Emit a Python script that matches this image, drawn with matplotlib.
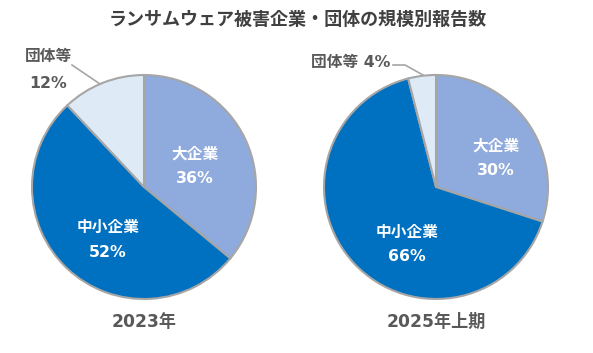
import matplotlib
matplotlib.use("Agg")
import matplotlib.pyplot as plt
import numpy as np

plt.rcParams['font.family'] = ['DejaVu Sans', 'Noto Sans CJK JP']

title = "ランサムウェア被害企業・団体の規模別報告数"
categories = ["大企業", "中小企業", "団体等"]
periods = ["2023年", "2025年上期"]
values_2023 = [36, 52, 12]
values_2025h1 = [30, 66, 4]
colors = ["#8FAADC", "#0070C0", "#DEEBF7"]

W, H = 593, 353
fig = plt.figure(figsize=(W / 100, H / 100), dpi=100)

def px_axes(cx, cy, r):
    return fig.add_axes([(cx - r) / W, (H - cy - r) / H, 2 * r / W, 2 * r / H])

fig.text(298 / W, 1 - 19 / H, title, ha='center', va='center',
         fontsize=13, fontweight='bold', color='#404040',
         family=['Noto Sans CJK JP', 'DejaVu Sans'])

R = 112
centers = [(144, 187), (436, 187)]
all_values = [values_2023, values_2025h1]
# inside label positions (data coords, unit radius)
inside_pos = [
    [(0.455, 0.183), (-0.32, -0.473), None],
    [(0.536, 0.254), (-0.259, -0.513), None],
]
gray = '#595959'
fs = 11.3

for k, (vals, (cx, cy)) in enumerate(zip(all_values, centers)):
    ax = px_axes(cx, cy, R)
    ax.pie(vals, colors=colors, startangle=90, counterclock=False, radius=1.0,
           wedgeprops=dict(edgecolor='#A6A6A6', linewidth=1.5))
    ax.set_xlim(-1, 1)
    ax.set_ylim(-1, 1)
    ax.set_aspect('equal')
    ax.axis('off')
    for i in range(2):
        x, y = inside_pos[k][i]
        ax.text(x, y, f"{categories[i]}\n{vals[i]}%", ha='center', va='center',
                color='white', fontsize=fs, fontweight='bold', linespacing=1.8)
    # period label
    fig.text(cx / W, 1 - 322 / H, periods[k], ha='center', va='center',
             fontsize=12.3, fontweight='bold', color=gray)

# outside labels for 団体等
fig.text(48 / W, 1 - 57 / H, categories[2], ha='center', va='center',
         fontsize=fs, fontweight='bold', color=gray)
fig.text(48 / W, 1 - 84 / H, f"{values_2023[2]}%", ha='center', va='center',
         fontsize=fs, fontweight='bold', color=gray)
fig.add_artist(plt.Line2D([72 / W, 100 / W], [1 - 65 / H, 1 - 84 / H],
                          color='#A6A6A6', lw=1.2))

fig.text(351 / W, 1 - 62 / H, f"{categories[2]} {values_2025h1[2]}%", ha='center', va='center',
         fontsize=fs, fontweight='bold', color=gray)
fig.add_artist(plt.Line2D([393 / W, 405 / W, 423 / W], [1 - 65 / H, 1 - 65 / H, 1 - 75 / H],
                          color='#A6A6A6', lw=1.2))

fig.savefig("out.png", dpi=100, facecolor='white')
